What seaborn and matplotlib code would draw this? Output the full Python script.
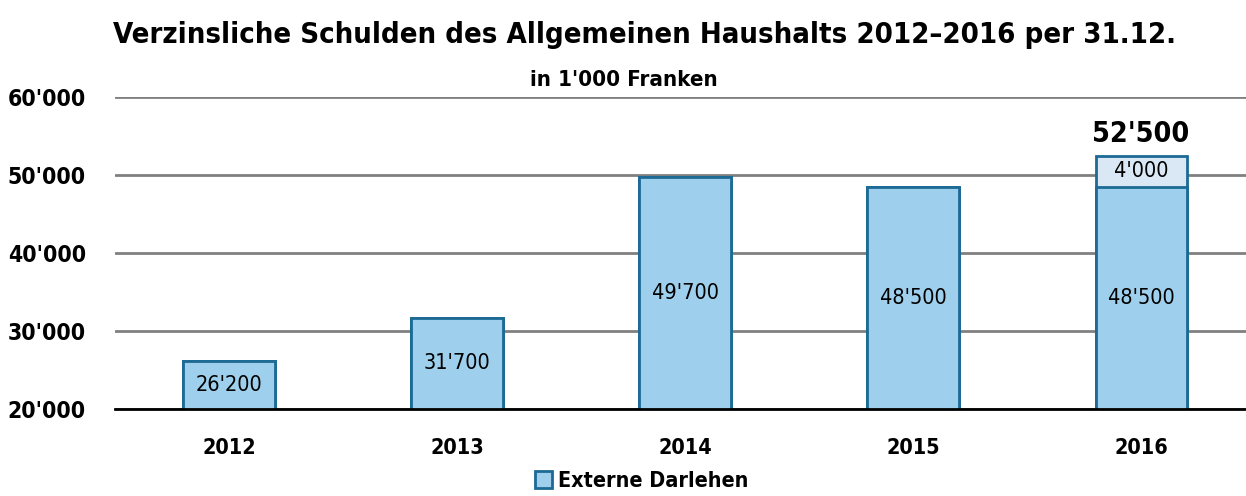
import matplotlib
matplotlib.use("Agg")
import matplotlib.pyplot as plt
import pandas as pd
import seaborn as sns
from matplotlib import font_manager
from matplotlib.patches import Patch

years = ["2012", "2013", "2014", "2015", "2016"]
base_values = [26200, 31700, 49700, 48500, 48500]
extra_values = [0, 0, 0, 0, 4000]
y_ticks = [20000, 30000, 40000, 50000, 60000]

totals = [b + e for b, e in zip(base_values, extra_values)]


def fmt(v):
    return f"{v:,}".replace(",", "'")


sns.set_theme(style="white")

# the original uses a condensed face; use one if it is there
condensed = [f for f in font_manager.fontManager.ttflist
             if f.name == "DejaVu Sans" and f.stretch == "condensed"]
if condensed:
    plt.rcParams["font.family"] = ["DejaVu Sans"]
    plt.rcParams["font.stretch"] = "condensed"
    k = 1.0
else:
    plt.rcParams["font.family"] = ["Liberation Sans", "DejaVu Sans"]
    k = 0.9
plt.rcParams["text.color"] = "black"

fill_blue = "#9ecfec"
fill_light = "#dae8f5"
edge_blue = "#1c6a95"

df = pd.DataFrame({"year": years, "base": base_values, "total": totals})

fig = plt.figure(figsize=(12.46, 4.96), dpi=100)
ax = fig.add_axes([0.0923, 0.1754, 0.9077, 0.629])

sns.barplot(data=df, x="year", y="total", color=fill_light, edgecolor=edge_blue,
            linewidth=2, width=0.4, saturation=1, ax=ax)
sns.barplot(data=df, x="year", y="base", color=fill_blue, edgecolor=edge_blue,
            linewidth=2, width=0.4, saturation=1, ax=ax)

ax.set_ylim(20000, 60000)
ax.set_xlim(-0.5, 4.46)
ax.set_yticks(y_ticks)
ax.set_yticklabels([fmt(t) for t in y_ticks], fontsize=16.5 * k, fontweight="bold",
                   color="black")
ax.set_xticklabels(years, fontsize=15.5 * k, fontweight="bold", color="black")
ax.tick_params(axis="y", length=0, pad=21)
ax.tick_params(axis="x", length=0, pad=21)
ax.set_xlabel("")
ax.set_ylabel("")
ax.yaxis.grid(True, color="#808080", linewidth=2)
ax.set_axisbelow(True)
for s in ["top", "right", "left"]:
    ax.spines[s].set_visible(False)
ax.spines["bottom"].set_color("black")
ax.spines["bottom"].set_linewidth(2)

for i, (b, e, t) in enumerate(zip(base_values, extra_values, totals)):
    ax.text(i, (20000 + b) / 2, fmt(b), ha="center", va="center", fontsize=15.5 * k)
    if e:
        ax.text(i, b + e / 2, fmt(e), ha="center", va="center", fontsize=15.5 * k)
        ax.text(i, t + 2800, fmt(t), ha="center", va="center", fontsize=20.5 * k,
                fontweight="bold")

fig.text(0.517, 0.93, "Verzinsliche Schulden des Allgemeinen Haushalts 2012\u20132016 per 31.12.",
         ha="center", va="center", fontsize=21 * k, fontweight="bold")
fig.text(0.501, 0.838, "in 1'000 Franken", ha="center", va="center", fontsize=16 * k,
         fontweight="bold")

handle = Patch(facecolor=fill_blue, edgecolor=edge_blue, linewidth=2)
fig.legend([handle], ["Externe Darlehen"], loc="center", bbox_to_anchor=(0.515, 0.03),
           frameon=False, prop={"size": 15.5 * k, "weight": "bold"}, handlelength=0.8,
           handleheight=0.8, handletextpad=0.3, borderpad=0)

fig.savefig("out.png", dpi=100)
